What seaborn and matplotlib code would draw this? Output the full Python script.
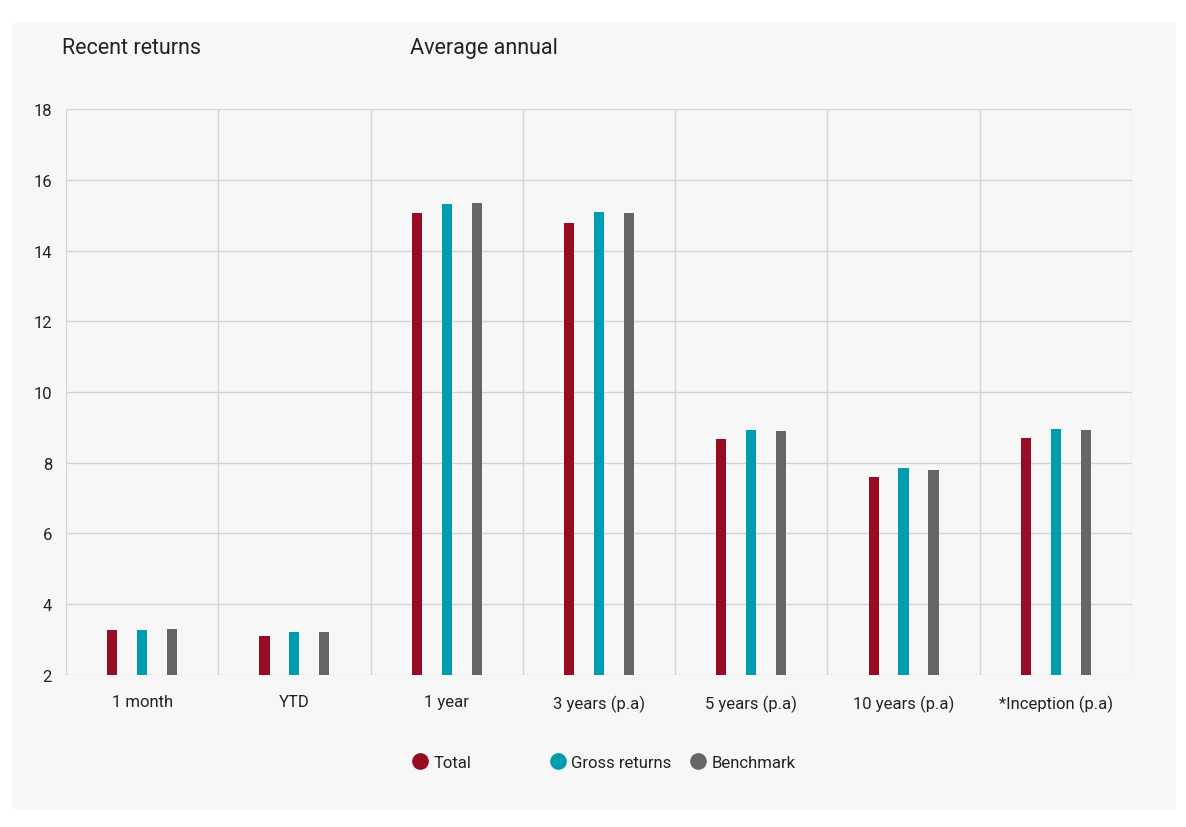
import pandas as pd
import numpy as np
import matplotlib
matplotlib.use("Agg")
import matplotlib.pyplot as plt
import seaborn as sns
from matplotlib.patches import Rectangle
from matplotlib.lines import Line2D

# data
periods = ["1 month", "YTD", "1 year", "3 years (p.a)", "5 years (p.a)",
           "10 years (p.a)", "*Inception (p.a)"]
total = [3.26, 3.09, 15.05, 14.79, 8.66, 7.59, 8.70]
gross = [3.26, 3.21, 15.31, 15.09, 8.93, 7.85, 8.95]
benchmark = [3.30, 3.21, 15.34, 15.05, 8.89, 7.80, 8.93]
series = ["Total", "Gross returns", "Benchmark"]
colors = ["#960c22", "#009caf", "#666666"]

df = pd.DataFrame({
    "period": periods * 3,
    "series": np.repeat(series, len(periods)),
    "value": total + gross + benchmark,
})

sns.set_theme(style="white")
plt.rcParams["font.family"] = ["Roboto", "DejaVu Sans"]
plt.rcParams["text.color"] = "#222222"

fig = plt.figure(figsize=(11.86, 8.28), dpi=100, facecolor="white")
# light gray panel behind everything
fig.patches.append(Rectangle((0.0101, 0.0217), 0.9815, 0.9493, transform=fig.transFigure,
                             facecolor="#f7f7f7", edgecolor="none", zorder=-10))

ax = fig.add_axes([0.0556, 0.1836, 0.8989, 0.6835])
ax.set_facecolor("#f7f7f7")

sns.barplot(data=df, x="period", y="value", hue="series", order=periods,
            hue_order=series, palette=colors, width=0.59, gap=0.66,
            legend=False, ax=ax, saturation=1, zorder=3)

# bars start at the bottom of the axis (2)
for bar in ax.patches:
    h = bar.get_height()
    bar.set_y(2)
    bar.set_height(h - 2)
    bar.set_edgecolor("none")

ax.set_ylim(2, 18)
ax.set_xlim(-0.5, len(periods) - 0.5)
ax.set_yticks(range(2, 19, 2))
ax.set_xlabel("")
ax.set_ylabel("")

grid_c = "#d4d4d4"
for y in range(2, 19, 2):
    ax.axhline(y, color=grid_c, lw=1, zorder=1)
for x in np.arange(-0.5, len(periods), 1.0):
    ax.axvline(x, color=grid_c, lw=1, zorder=1)
for s in ax.spines.values():
    s.set_visible(False)

ax.tick_params(axis="y", length=8, color=grid_c, pad=2, labelsize=12, labelcolor="#222222")
ax.tick_params(axis="x", length=0, pad=14, labelsize=12, labelcolor="#222222")

fig.text(0.0523, 0.942, "Recent returns", fontsize=15.5, va="center")
fig.text(0.3457, 0.942, "Average annual", fontsize=15.5, va="center")

# one legend entry per slot so the markers sit where the reference has them
legend_x = [0.346, 0.462, 0.580]
for c, name, lx in zip(colors, series, legend_x):
    h = Line2D([], [], marker="o", ls="none", markersize=11, color=c)
    fig.legend([h], [name], loc="center left", bbox_to_anchor=(lx, 0.0785),
               frameon=False, fontsize=12, handletextpad=0.2, borderaxespad=0,
               borderpad=0, handlelength=1.2)

fig.savefig("out.png", dpi=100, facecolor="white")
